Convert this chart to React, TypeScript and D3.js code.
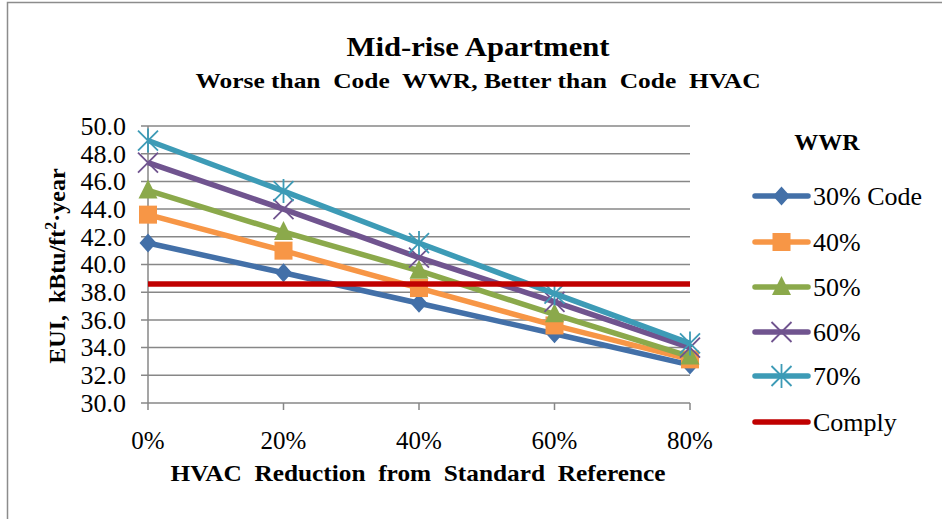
import React from "react";
import * as d3 from "d3";

const categories = ["0%", "20%", "40%", "60%", "80%"];
const yTicks = [30, 32, 34, 36, 38, 40, 42, 44, 46, 48, 50];
const s30 = [41.55, 39.4, 37.2, 35.0, 32.75];
const s40 = [43.6, 41.0, 38.3, 35.6, 33.15];
const s50 = [45.35, 42.35, 39.55, 36.4, 33.35];
const s60 = [47.35, 44.0, 40.5, 37.3, 34.0];
const s70 = [48.95, 45.3, 41.55, 37.9, 34.3];
const comply = [38.6, 38.6, 38.6, 38.6, 38.6];
const seriesNames = ["30% Code", "40%", "50%", "60%", "70%", "Comply"];

const FONT = "'Liberation Serif', 'Times New Roman', serif";
const TS: React.CSSProperties = { fontFamily: FONT };
const TSP: React.CSSProperties = { fontFamily: FONT, whiteSpace: "pre" };

type Series = { name: string; values: number[]; color: string; marker: string };

const series: Series[] = [
  { name: seriesNames[0], values: s30, color: "#4370A8", marker: "diamond" },
  { name: seriesNames[1], values: s40, color: "#F79646", marker: "square" },
  { name: seriesNames[2], values: s50, color: "#8BA94B", marker: "triangle" },
  { name: seriesNames[3], values: s60, color: "#70548F", marker: "x" },
  { name: seriesNames[4], values: s70, color: "#3D9BB6", marker: "star" },
  { name: seriesNames[5], values: comply, color: "#C00000", marker: "none" },
];

function Marker({ type, x, y, color }: { type: string; x: number; y: number; color: string }) {
  if (type === "diamond") {
    return <path d={`M${x},${y - 9.5}L${x + 8.5},${y}L${x},${y + 9.5}L${x - 8.5},${y}Z`} fill={color} />;
  }
  if (type === "square") {
    return <rect x={x - 9} y={y - 9} width={18} height={18} fill={color} />;
  }
  if (type === "triangle") {
    return <path d={`M${x},${y - 11}L${x + 9.5},${y + 8}L${x - 9.5},${y + 8}Z`} fill={color} />;
  }
  if (type === "x") {
    return (
      <path
        d={`M${x - 10},${y - 10}L${x + 10},${y + 10}M${x - 10},${y + 10}L${x + 10},${y - 10}`}
        stroke={color}
        strokeWidth={1.8}
      />
    );
  }
  if (type === "star") {
    return (
      <path
        d={`M${x - 10},${y - 10}L${x + 10},${y + 10}M${x - 10},${y + 10}L${x + 10},${y - 10}M${x},${y - 12}L${x},${y + 12}`}
        stroke={color}
        strokeWidth={1.8}
      />
    );
  }
  return null;
}

export default function App() {
  const W = 942;
  const H = 519;
  const x = d3.scalePoint<string>().domain(categories).range([148, 690]).padding(0);
  const y = d3.scaleLinear().domain([30, 50]).range([403, 126]);
  const line = d3
    .line<number>()
    .x((_, i) => x(categories[i]) as number)
    .y((d) => y(d));

  const legendX0 = 755;
  const legendX1 = 808;
  const legendY = [196, 242, 287, 332, 376, 422];

  return (
    <svg
      width={W}
      height={H}
      style={{ position: "absolute", left: 0, top: 0, background: "#fff", fontFamily: FONT }}
    >
      <rect x={0} y={0} width={W} height={H} fill="#fff" />
      {/* outer border */}
      <rect x={7.5} y={2.5} width={1000} height={600} fill="none" stroke="#8c8c8c" strokeWidth={1.5} />

      {/* title */}
      <text x={478} y={56} textAnchor="middle" fontSize={28} fontWeight="bold" textLength={263} lengthAdjust="spacingAndGlyphs" style={TS}>
        Mid-rise Apartment
      </text>
      <text x={478} y={88} textAnchor="middle" fontSize={22} fontWeight="bold" textLength={565} lengthAdjust="spacingAndGlyphs" style={TSP}>
        {"Worse than  Code  WWR, Better than  Code  HVAC"}
      </text>

      {/* gridlines */}
      {yTicks.map((t) => (
        <line key={"g" + t} x1={141} x2={690} y1={y(t)} y2={y(t)} stroke="#878787" strokeWidth={1.5} />
      ))}
      {/* y axis */}
      <line x1={148} x2={148} y1={y(50)} y2={y(30)} stroke="#878787" strokeWidth={1.5} />
      {/* x ticks */}
      {categories.map((c) => (
        <line key={"t" + c} x1={x(c)} x2={x(c)} y1={y(30)} y2={y(30) + 7} stroke="#878787" strokeWidth={1.5} />
      ))}

      {/* y tick labels */}
      {yTicks.map((t) => (
        <text key={"yl" + t} x={126} y={y(t)} dy="0.34em" textAnchor="end" fontSize={26} style={TS}>
          {t.toFixed(1)}
        </text>
      ))}
      {/* x tick labels */}
      {categories.map((c) => (
        <text key={"xl" + c} x={x(c)} y={449} textAnchor="middle" fontSize={25} style={TS}>
          {c}
        </text>
      ))}

      {/* axis titles */}
      <text x={418} y={481} textAnchor="middle" fontSize={24} fontWeight="bold" textLength={495} lengthAdjust="spacingAndGlyphs" style={TSP}>
        {"HVAC  Reduction  from  Standard  Reference"}
      </text>
      <text
        transform="translate(65,266) rotate(-90)"
        textAnchor="middle"
        fontSize={24}
        fontWeight="bold"
        style={TSP}
      >
        {"EUI,  kBtu/ft"}
        <tspan fontSize={16} dy={-9}>2</tspan>
        <tspan dy={9}>{"·year"}</tspan>
      </text>

      {/* series */}
      {series.map((s) => (
        <g key={s.name}>
          <path d={line(s.values) || ""} fill="none" stroke={s.color} strokeWidth={5.5} strokeLinejoin="round" />
          {s.values.map((v, i) => (
            <Marker key={i} type={s.marker} x={x(categories[i]) as number} y={y(v)} color={s.color} />
          ))}
        </g>
      ))}

      {/* legend */}
      <text x={827} y={150} textAnchor="middle" fontSize={24} fontWeight="bold" style={TS}>
        WWR
      </text>
      {series.map((s, i) => (
        <g key={"lg" + s.name}>
          <line x1={legendX0} x2={legendX1} y1={legendY[i]} y2={legendY[i]} stroke={s.color} strokeWidth={5.5} strokeLinecap="round" />
          <Marker type={s.marker} x={(legendX0 + legendX1) / 2} y={legendY[i]} color={s.color} />
          <text x={813} y={legendY[i]} dy="0.34em" fontSize={26} style={TS}>
            {s.name}
          </text>
        </g>
      ))}
    </svg>
  );
}
